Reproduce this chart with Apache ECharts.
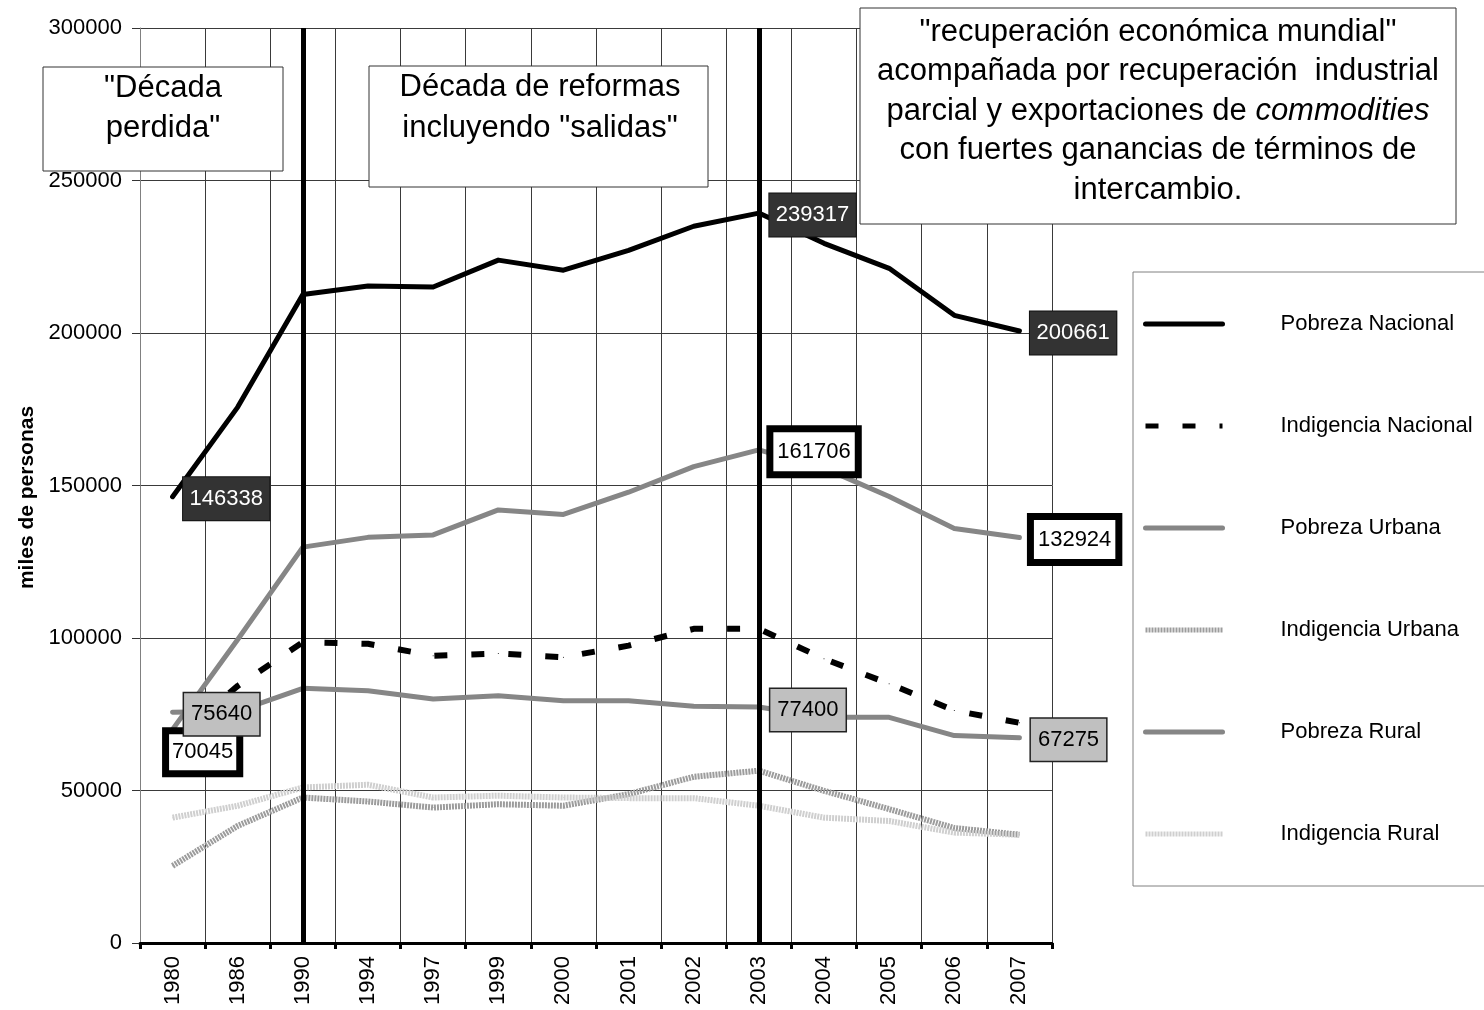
<!DOCTYPE html>
<html><head><meta charset="utf-8">
<script src="https://cdn.jsdelivr.net/npm/echarts@6/dist/echarts.min.js"></script>
<style>html,body{margin:0;padding:0;background:#fff}#c{width:1484px;height:1010px}</style>
</head><body><div id="c"></div>
<script>
// ---------- DATA ----------
const categories = ['1980','1986','1990','1994','1997','1999','2000','2001','2002','2003','2004','2005','2006','2007'];
const seriesNames = ['Pobreza Nacional','Indigencia Nacional','Pobreza Urbana','Indigencia Urbana','Pobreza Rural','Indigencia Rural'];
const pobrezaNacional    = [146338, 175700, 212600, 215400, 215100, 223900, 220600, 227100, 235000, 239317, 229400, 221200, 205800, 200661];
const indigenciaNacional = [66400, 84300, 98600, 98100, 94200, 94900, 93700, 97500, 103000, 103000, 93200, 85000, 76200, 72200];
const pobrezaUrbana      = [70045, 99500, 129800, 133000, 133800, 142000, 140500, 147800, 156200, 161706, 155700, 146400, 135900, 132924];
const indigenciaUrbana   = [25300, 38400, 47700, 46400, 44400, 45500, 45000, 48800, 54500, 56500, 49900, 43900, 37700, 35500];
const pobrezaRural       = [75640, 76000, 83500, 82700, 80000, 81100, 79400, 79400, 77600, 77400, 74000, 74000, 68000, 67275];
const indigenciaRural    = [41100, 45000, 51000, 51900, 47700, 48300, 47700, 47500, 47500, 45000, 41100, 40000, 36200, 35500];
const yMin = 0, yMax = 300000, yStep = 50000;
const markYears = ['1990', '2003'];
const labeledIdxPN = [0, 9, 13];
const labeledIdxPU = [0, 9, 13];
const labeledIdxPR = [0, 9, 13];
const yAxisTitle = 'miles de personas';
const note1 = ['"Década', 'perdida"'];
const note2 = ['Década de reformas', 'incluyendo "salidas"'];
const note3 = ['"recuperación económica mundial"', 'acompañada por recuperación  industrial', 'parcial y exportaciones de {i|commodities}', 'con fuertes ganancias de términos de', 'intercambio.'];

// ---------- STYLE ----------
const FONT = "'Liberation Sans', Arial, Helvetica, sans-serif";
const fmt = p => String(p.value);

const lblDark = { show: true, position: 'right', distance: 10, offset: [0, 2], formatter: fmt,
  fontFamily: FONT, fontSize: 22, lineHeight: 23, color: '#fff', backgroundColor: '#333333',
  borderColor: '#111', borderWidth: 1, padding: [10, 6.5] };
const lblWhite = { show: true, position: 'right', distance: 14, offset: [0, 2], formatter: fmt,
  fontFamily: FONT, fontSize: 22, lineHeight: 23, color: '#000', backgroundColor: '#fff',
  borderColor: '#000', borderWidth: 7, padding: [8, 4] };
const lblGray = { show: true, position: 'right', distance: 11, offset: [0, 2], formatter: fmt,
  fontFamily: FONT, fontSize: 22, lineHeight: 23, color: '#000', backgroundColor: '#c0c0c0',
  borderColor: '#222', borderWidth: 1.5, padding: [9.5, 7] };

function withLabels(values, idxs, base, overrides) {
  return values.map((v, i) => {
    if (idxs.indexOf(i) < 0) return v;
    const o = (overrides && overrides[i]) || {};
    return { value: v, label: Object.assign({}, base, o) };
  });
}

function lineSeries(name, data, color, width, type, extra) {
  return Object.assign({
    name, type: 'line', data,
    symbol: 'circle', symbolSize: 1, showSymbol: true, showAllSymbol: true,
    itemStyle: { color },
    lineStyle: { color, width, type: type || 'solid', cap: 'round', join: 'round' },
    emphasis: { disabled: true }, animation: false
  }, extra || {});
}

const series = [
  lineSeries(seriesNames[0], withLabels(pobrezaNacional, labeledIdxPN, lblDark), '#000', 5),
  lineSeries(seriesNames[1], indigenciaNacional, '#000', 6, [13, 24], { lineStyle: { color: '#000', width: 6, type: [13, 24], cap: 'butt' } }),
  lineSeries(seriesNames[2], withLabels(pobrezaUrbana, labeledIdxPU, lblWhite,
    { 0: { distance: 0, offset: [-4, 23], padding: [6.5, 3] } }), '#868686', 5),
  lineSeries(seriesNames[3], indigenciaUrbana, '#9c9c9c', 6, [2, 1], { lineStyle: { color: '#9c9c9c', width: 6, type: [2, 1], cap: 'butt' } }),
  lineSeries(seriesNames[4], withLabels(pobrezaRural, labeledIdxPR, lblGray,
    { 9: { offset: [0, 3] } }), '#868686', 5),
  lineSeries(seriesNames[5], indigenciaRural, '#cfcfcf', 6, [2, 1], {
    lineStyle: { color: '#cfcfcf', width: 6, type: [2, 1], cap: 'butt' },
    markLine: { silent: true, symbol: ['none', 'none'], label: { show: false }, animation: false,
      lineStyle: { color: '#000', width: 5, type: 'solid' },
      data: markYears.map(y => ({ xAxis: y })) }
  })
];

function noteTexts(lines, cx, firstY, lh, size) {
  return lines.map((t, i) => ({
    type: 'text', z: 101, x: cx, y: firstY + i * lh,
    style: { text: t, fontFamily: FONT, fontSize: size, fill: '#000',
      align: 'center', textAlign: 'center', verticalAlign: 'middle', textVerticalAlign: 'middle',
      rich: { i: { fontFamily: FONT, fontSize: size, fontStyle: 'italic', fill: '#000' } } }
  }));
}

const graphic = [
  { type: 'rect', z: 100, shape: { x: 43, y: 67, width: 240, height: 104 }, style: { fill: '#fff', stroke: '#333', lineWidth: 1 } },
  ...noteTexts(note1, 163, 88, 40, 31),
  { type: 'rect', z: 100, shape: { x: 369, y: 66, width: 339, height: 121 }, style: { fill: '#fff', stroke: '#333', lineWidth: 1 } },
  ...noteTexts(note2, 540, 87, 41, 31),
  { type: 'rect', z: 100, shape: { x: 860, y: 8, width: 596, height: 216 }, style: { fill: '#fff', stroke: '#333', lineWidth: 1 } },
  ...noteTexts(note3, 1158, 32, 39.5, 31)
];

const option = {
  animation: false,
  backgroundColor: '#fff',
  textStyle: { fontFamily: FONT },
  grid: { left: 140, right: 432, top: 28, bottom: 67, containLabel: false, outerBoundsMode: 'none' },
  xAxis: {
    type: 'category', data: categories, boundaryGap: true,
    axisLine: { show: true, onZero: true, lineStyle: { color: '#000', width: 3 } },
    axisTick: { show: true, interval: 0, length: 6, lineStyle: { color: '#000', width: 3 } },
    axisLabel: { interval: 0, rotate: 90, margin: 13, fontFamily: FONT, fontSize: 22, color: '#000', hideOverlap: false },
    splitLine: { show: true, interval: 0, lineStyle: { color: '#3a3a3a', width: 1 } }
  },
  yAxis: {
    type: 'value', min: yMin, max: yMax, interval: yStep,
    name: yAxisTitle, nameLocation: 'middle', nameGap: 99, nameRotate: 90,
    nameTextStyle: { fontFamily: FONT, fontSize: 21, fontWeight: 'bold', color: '#000', padding: [0, 24, 0, 0] },
    axisLine: { show: true, lineStyle: { color: '#808080', width: 1 } },
    axisTick: { show: true, length: 8, lineStyle: { color: '#333', width: 1 } },
    axisLabel: { margin: 18, fontFamily: FONT, fontSize: 22, color: '#000', formatter: v => String(v) },
    splitLine: { show: true, lineStyle: { color: '#3a3a3a', width: 1 } }
  },
  legend: {
    orient: 'vertical', left: 1133, top: 272,
    padding: [41, 40, 41, 10],
    itemWidth: 77, itemHeight: 20, itemGap: 80,
    backgroundColor: '#fff', borderColor: '#808080', borderWidth: 1,
    itemStyle: { opacity: 0 },
    lineStyle: { width: 5 },
    textStyle: { fontFamily: FONT, fontSize: 22, color: '#000', lineHeight: 20, padding: [0, 0, 0, 53] },
    data: seriesNames,
    selectedMode: false
  },
  graphic,
  series
};

const chart = echarts.init(document.getElementById('c'), null, { renderer: 'canvas' });
chart.setOption(option);
</script>
</body></html>
